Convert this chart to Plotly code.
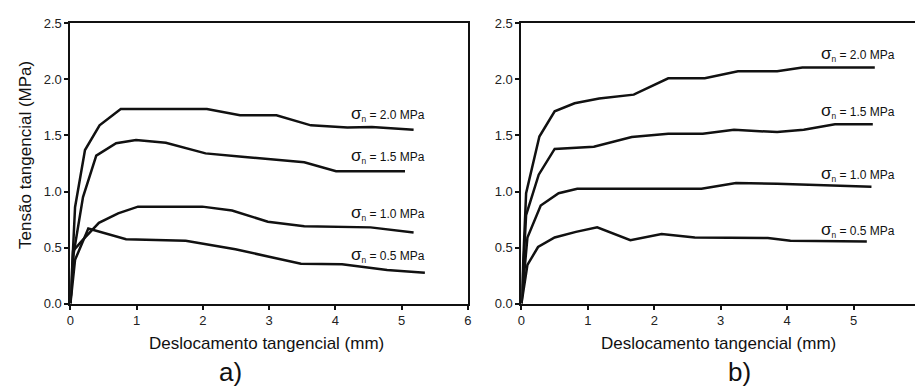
import plotly.graph_objects as go

# Panel a) data
a_x_20 = [0, 0.07, 0.22, 0.44, 0.76, 2.06, 2.56, 3.11, 3.63, 4.18, 4.55, 5.18]
a_y_20 = [0, 0.86, 1.37, 1.59, 1.735, 1.735, 1.68, 1.68, 1.59, 1.57, 1.575, 1.55]
a_x_15 = [0, 0.05, 0.19, 0.39, 0.69, 0.99, 1.44, 2.04, 2.59, 3.53, 4.01, 5.05]
a_y_15 = [0, 0.45, 0.95, 1.32, 1.43, 1.46, 1.435, 1.34, 1.31, 1.26, 1.18, 1.18]
a_x_10 = [0, 0.04, 0.19, 0.43, 0.72, 1.02, 1.99, 2.44, 2.98, 3.53, 4.53, 5.18]
a_y_10 = [0, 0.47, 0.57, 0.72, 0.805, 0.865, 0.865, 0.83, 0.73, 0.69, 0.68, 0.635]
a_x_05 = [0, 0.07, 0.27, 0.84, 1.74, 2.49, 3.48, 4.1, 4.78, 5.35]
a_y_05 = [0, 0.39, 0.67, 0.575, 0.56, 0.485, 0.355, 0.35, 0.30, 0.275]

# Panel b) data
b_x_20 = [0, 0.07, 0.27, 0.50, 0.80, 1.17, 1.69, 2.21, 2.76, 3.26, 3.85, 4.23, 5.32]
b_y_20 = [0, 0.985, 1.49, 1.715, 1.787, 1.83, 1.864, 2.01, 2.01, 2.073, 2.073, 2.107, 2.107]
b_x_15 = [0, 0.07, 0.26, 0.50, 1.09, 1.66, 2.21, 2.73, 3.20, 3.85, 4.25, 4.72, 5.29]
b_y_15 = [0, 0.79, 1.15, 1.38, 1.40, 1.486, 1.515, 1.515, 1.55, 1.53, 1.55, 1.60, 1.60]
b_x_10 = [0, 0.09, 0.29, 0.56, 0.84, 2.71, 3.23, 3.85, 5.27]
b_y_10 = [0, 0.59, 0.875, 0.985, 1.025, 1.025, 1.076, 1.07, 1.042]
b_x_05 = [0, 0.09, 0.25, 0.50, 0.82, 1.14, 1.64, 2.11, 2.61, 3.71, 4.05, 5.20]
b_y_05 = [0, 0.345, 0.505, 0.59, 0.64, 0.68, 0.565, 0.62, 0.59, 0.585, 0.56, 0.553]

labels = ["2.0", "1.5", "1.0", "0.5"]
a_label_x = [4.2, 4.2, 4.2, 4.2]
a_label_y = [1.69, 1.32, 0.81, 0.43]
b_label_x = [4.48, 4.48, 4.48, 4.48]
b_label_y = [2.23, 1.72, 1.16, 0.66]

x_ticks = [0, 1, 2, 3, 4, 5, 6]
y_ticks = [0.0, 0.5, 1.0, 1.5, 2.0, 2.5]

fig = go.Figure()
line = dict(color="#111111", width=2.5)
for xs, ys in [(a_x_20, a_y_20), (a_x_15, a_y_15), (a_x_10, a_y_10), (a_x_05, a_y_05)]:
    fig.add_trace(go.Scatter(x=xs, y=ys, mode="lines", line=line, xaxis="x", yaxis="y", showlegend=False))
for xs, ys in [(b_x_20, b_y_20), (b_x_15, b_y_15), (b_x_10, b_y_10), (b_x_05, b_y_05)]:
    fig.add_trace(go.Scatter(x=xs, y=ys, mode="lines", line=line, xaxis="x2", yaxis="y2", showlegend=False))

W, H = 919, 389
FF = "Liberation Sans, Arial, sans-serif"
tickfont = dict(family=FF, size=13, color="#222")
axcommon = dict(showline=True, linecolor="#111", linewidth=2, ticks="outside", ticklen=4,
                tickwidth=1.5, tickcolor="#111", showgrid=False, zeroline=False, tickfont=tickfont)

ydom = [1 - 308.5 / H, 1 - 17 / H]
fig.update_layout(
    width=W, height=H, margin=dict(l=0, r=0, t=0, b=0),
    plot_bgcolor="white", paper_bgcolor="white",
    xaxis=dict(domain=[67 / W, 468 / W], range=[0, 6], tickvals=x_ticks, mirror=True, anchor="y", **axcommon),
    yaxis=dict(domain=ydom, range=[0, 2.5], tickvals=y_ticks, tickformat=".1f", mirror=True, anchor="x", **axcommon),
    xaxis2=dict(domain=[522 / W, 1.0], range=[0, (W - 522) / 67], tickvals=x_ticks[:-1], mirror=True, anchor="y2", **axcommon),
    yaxis2=dict(domain=ydom, range=[0, 2.5], tickvals=y_ticks, tickformat=".1f", mirror=False, anchor="x2", **axcommon),
)

ann_font = dict(family=FF, size=12, color="#111")
def lab_text(v):
    return '<span style="font-size:17px">σ</span><sub>n</sub> = ' + v + " MPa"

for lab, lx, ly in zip(labels, a_label_x, a_label_y):
    fig.add_annotation(x=lx, y=ly, xref="x", yref="y", text=lab_text(lab),
                       showarrow=False, xanchor="left", yanchor="middle", font=ann_font)
for lab, lx, ly in zip(labels, b_label_x, b_label_y):
    fig.add_annotation(x=lx, y=ly, xref="x2", yref="y2", text=lab_text(lab),
                       showarrow=False, xanchor="left", yanchor="middle", font=ann_font)

title_font = dict(family=FF, size=17, color="#111")
fig.add_annotation(x=265 / W, y=1 - 350 / H, xref="paper", yref="paper", text="Deslocamento tangencial (mm)",
                   showarrow=False, xanchor="center", yanchor="middle", font=title_font)
fig.add_annotation(x=721 / W, y=1 - 350 / H, xref="paper", yref="paper", text="Deslocamento tangencial (mm)",
                   showarrow=False, xanchor="center", yanchor="middle", font=title_font)
fig.add_annotation(x=21 / W, y=1 - 154 / H, xref="paper", yref="paper", text="Tensão tangencial (MPa)",
                   showarrow=False, textangle=-90, xanchor="center", yanchor="middle", font=title_font)
big = dict(family=FF, size=26, color="#111")
fig.add_annotation(x=228 / W, y=1 - 380 / H, xref="paper", yref="paper", text="a)",
                   showarrow=False, xanchor="center", yanchor="middle", font=big)
fig.add_annotation(x=742 / W, y=1 - 380 / H, xref="paper", yref="paper", text="b)",
                   showarrow=False, xanchor="center", yanchor="middle", font=big)

fig.write_html("out.html")
